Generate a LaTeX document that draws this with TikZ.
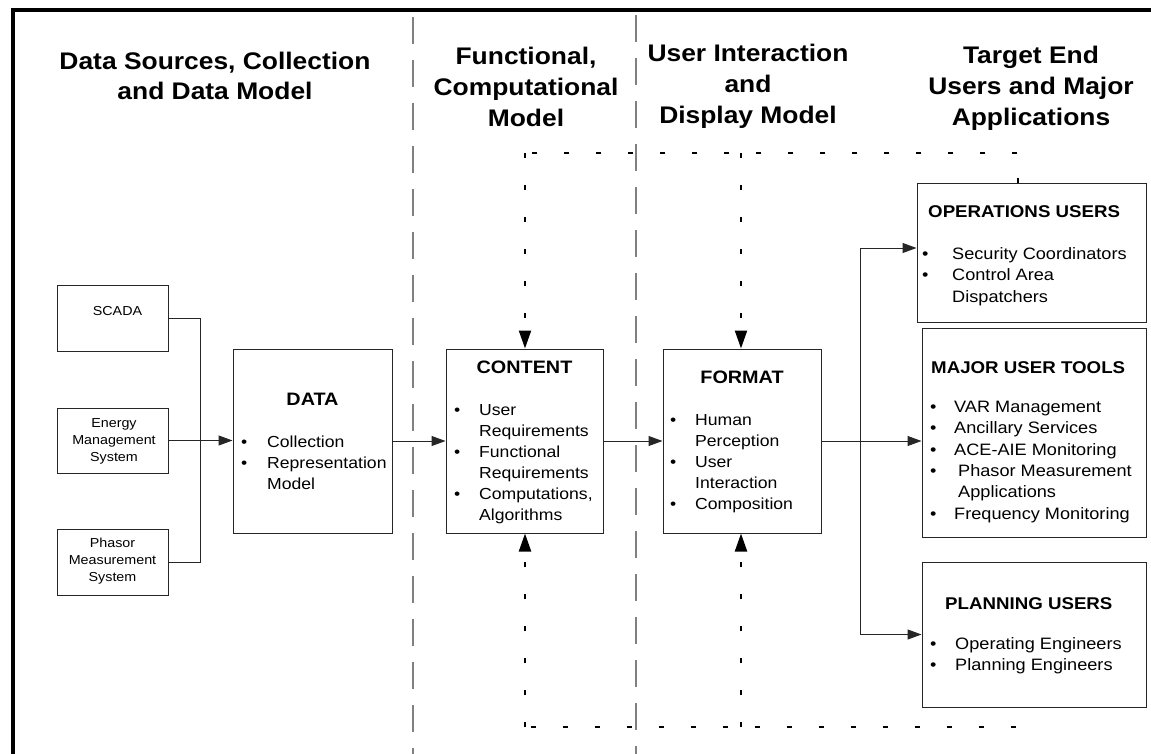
\documentclass[tikz,border=0pt]{standalone}
\usepackage{fontspec}
\setmainfont{Liberation Sans}[FakeStretch=1.1]
\usetikzlibrary{arrows.meta}
\newcommand\bitem[2]{\makebox[#1pt][l]{•}#2}
\newcommand\bcont[2]{\hspace*{#1pt}#2}
\begin{document}
\begin{tikzpicture}[x=1pt,y=-1pt,
  box/.style={draw=black!85, line width=1pt, inner sep=0pt, rectangle},
  conn/.style={draw=black!85, line width=1pt},
  arr/.style={-{Triangle[length=14pt,width=10pt]}},
  fb/.style={draw=black, line width=2.2pt, dash pattern=on 5pt off 27pt},
  fbarr/.style={-{Triangle[length=18pt,width=12pt]}},
  sepline/.style={draw=black!50, line width=1.3pt, dash pattern=on 27pt off 16pt},
  ttl/.style={font=\fontsize{24}{31}\selectfont\bfseries, anchor=base, inner sep=0pt},
  btitle/.style={font=\fontsize{18}{22}\selectfont\bfseries, anchor=base, inner sep=0pt},
  rtitle/.style={font=\fontsize{17}{21}\selectfont\bfseries, anchor=base west, inner sep=0pt},
  blist/.style={font=\fontsize{16}{21}\selectfont, anchor=base west, inner sep=0pt},
  rlist/.style={font=\fontsize{16.5}{21.3}\selectfont, anchor=base west, inner sep=0pt},
  small/.style={font=\fontsize{13}{17}\selectfont, anchor=base, inner sep=0pt}
]
\useasboundingbox[fill=white] (0,0) rectangle (1151,754);

% frame
\draw[line width=4pt] (12.5,754) -- (12.5,10) -- (1151,10);

% separators
\draw[sepline] (413,17) -- (413,754);
\draw[sepline] (636,15) -- (636,754);

% titles
\node[ttl, font=\fontsize{24}{29.5}\selectfont\bfseries] (t1) at (215,70) {\begin{tabular}[t]{@{}c@{}}Data Sources, Collection\\and Data Model\end{tabular}};
\node[ttl] (t2) at (526,65) {\begin{tabular}[t]{@{}c@{}}Functional,\\Computational\\Model\end{tabular}};
\node[ttl] (t3) at (748,62) {\begin{tabular}[t]{@{}c@{}}User Interaction\\and\\Display Model\end{tabular}};
\node[ttl] (t4) at (1031,63.5) {\begin{tabular}[t]{@{}c@{}}Target End\\Users and Major\\Applications\end{tabular}};

% source boxes
\node[box, minimum width=111pt, minimum height=66pt] (scada) at (112.5,318) {};
\node[box, minimum width=111pt, minimum height=65pt] (ems) at (112.5,440.5) {};
\node[box, minimum width=111pt, minimum height=66pt] (pms) at (112.5,562) {};
\node[small] (scadat) at (117.5,315) {SCADA};
\node[small] (emst) at (114,427.5) {\begin{tabular}[t]{@{}c@{}}Energy\\Management\\System\end{tabular}};
\node[small] (pmst) at (112.5,547.5) {\begin{tabular}[t]{@{}c@{}}Phasor\\Measurement\\System\end{tabular}};

% main boxes
\node[box, minimum width=159pt, minimum height=184pt] (data) at (312.5,441) {};
\node[box, minimum width=157pt, minimum height=184pt] (content) at (524.5,441) {};
\node[box, minimum width=158pt, minimum height=184pt] (format) at (742,441) {};

\node[btitle] (datat) at (312.5,405) {DATA};
\node[blist] (datal) at (241,447) {\begin{tabular}[t]{@{}l@{}}\bitem{26}{Collection}\\\bitem{26}{Representation}\\\bcont{26}{Model}\end{tabular}};

\node[btitle] (contentt) at (524.5,373.5) {CONTENT};
\node[blist] (contentl) at (454,415.5) {\begin{tabular}[t]{@{}l@{}}\bitem{25}{User}\\\bcont{25}{Requirements}\\\bitem{25}{Functional}\\\bcont{25}{Requirements}\\\bitem{25}{Computations,}\\\bcont{25}{Algorithms}\end{tabular}};

\node[btitle] (formatt) at (742,383.5) {FORMAT};
\node[blist] (formatl) at (670,425.5) {\begin{tabular}[t]{@{}l@{}}\bitem{25}{Human}\\\bcont{25}{Perception}\\\bitem{25}{User}\\\bcont{25}{Interaction}\\\bitem{25}{Composition}\end{tabular}};

% user boxes
\node[box, minimum width=229pt, minimum height=138pt] (ops) at (1031.5,253) {};
\node[box, minimum width=224pt, minimum height=209pt] (major) at (1034,432.5) {};
\node[box, minimum width=224pt, minimum height=145pt] (plan) at (1034,634.5) {};

\node[rtitle] (opst) at (928,218) {OPERATIONS USERS};
\node[rlist] (opsl) at (922,259.5) {\begin{tabular}[t]{@{}l@{}}\bitem{30}{Security Coordinators}\\\bitem{30}{Control Area}\\\bcont{30}{Dispatchers}\end{tabular}};

\node[rtitle] (majort) at (931,373) {MAJOR USER TOOLS};
\node[rlist] (majorl) at (930,412.5) {\begin{tabular}[t]{@{}l@{}}\bitem{24}{VAR Management}\\\bitem{24}{Ancillary Services}\\\bitem{24}{ACE-AIE Monitoring}\\\bitem{28}{Phasor Measurement}\\\bcont{28}{Applications}\\\bitem{24}{Frequency Monitoring}\end{tabular}};

\node[rtitle] (plant) at (945,609) {PLANNING USERS};
\node[rlist] (planl) at (930,649.5) {\begin{tabular}[t]{@{}l@{}}\bitem{25}{Operating Engineers}\\\bitem{25}{Planning Engineers}\end{tabular}};

% junctions
\coordinate (jl) at (200,441);
\coordinate (jr) at (860,441);

% connectors
\draw[conn] (scada.east) -| (jl);
\draw[conn] (pms.east) -| (jl);
\draw[conn, arr] (ems.east) -- (ems.east -| data.west);
\draw[conn, arr] (data.east) -- (content.west);
\draw[conn, arr] (content.east) -- (format.west);
\draw[conn, arr] (format.east) -- (format.east -| major.west);
\draw[conn, arr] (jr) |- ([yshift=5pt]ops.west);
\draw[conn, arr] (jr) |- (plan.west);

% feedback dotted paths
\coordinate (tr) at (1018,153);
\coordinate (tl) at (525,153);
\coordinate (tm) at (741,153);
\coordinate (br) at (1018,727);
\coordinate (bl) at (525,727);
\coordinate (bm) at (741,727);
\draw[fb] (tr |- ops.north) -- (tr) -- (tl);
\draw[fb, fbarr] (tl) -- (tl |- content.north);
\draw[fb, fbarr] (tm) -- (tm |- format.north);
\draw[fb, dash phase=10pt] (br |- plan.south) -- (br) -- (bl);
\draw[fb, fbarr] (bl) -- (bl |- content.south);
\draw[fb, fbarr] (bm) -- (bm |- format.south);
\end{tikzpicture}
\end{document}
